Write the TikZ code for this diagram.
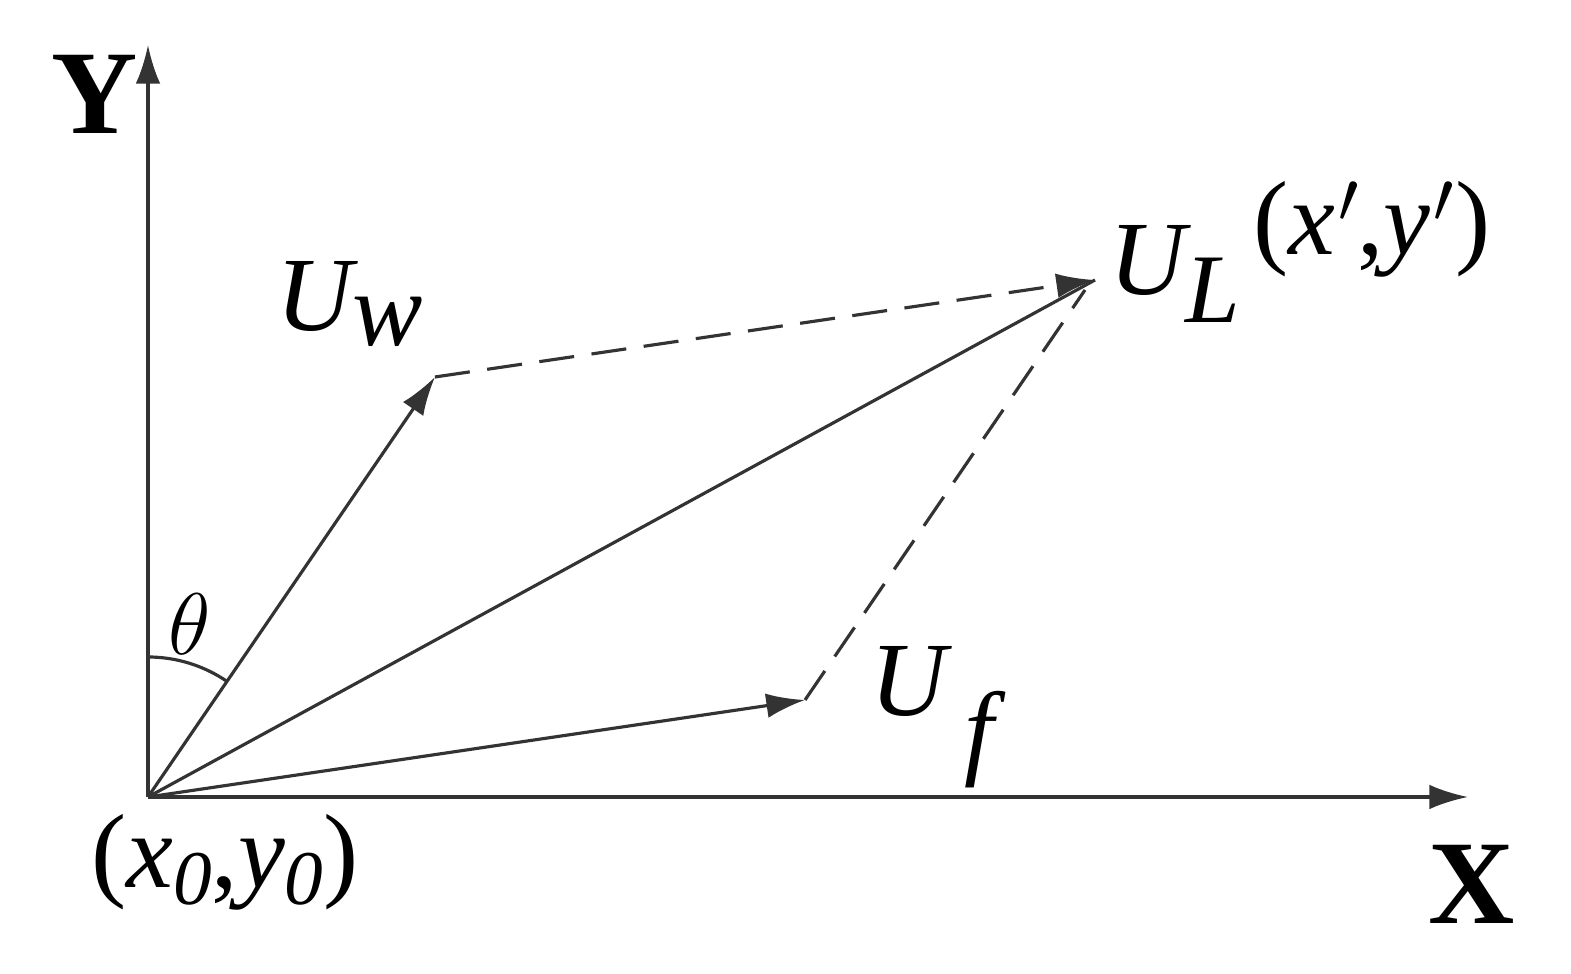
\documentclass[tikz,border=0pt]{standalone}
\usepackage{fontspec}
\setmainfont{Liberation Serif}
\usetikzlibrary{arrows.meta}
\begin{document}
\begin{tikzpicture}[x=1cm,y=1cm,
  vec/.style={line width=0.9pt,draw=black!80,-{Latex[length=11pt,width=7pt]}},
  dsh/.style={line width=0.9pt,draw=black!80,dash pattern=on 10pt off 5pt},
  lab/.style={font=\fontsize{30}{30}\selectfont\itshape,inner sep=0pt}]
\useasboundingbox (0,0) rectangle (15.71,9.74);
\coordinate (O) at (1.48,1.77);
\coordinate (Yt) at (1.48,9.29);
\coordinate (Xt) at (14.68,1.77);
\coordinate (W) at (4.35,5.97);
\coordinate (L) at (10.95,6.94);
\coordinate (F) at (8.05,2.74);
\coordinate (L2) at (10.85,6.84);
\draw[vec] (O) -- (Yt);
\draw[vec] (O) -- (Xt);
\draw[vec] (O) -- (W);
\draw[vec] (O) -- (F);
\draw[line width=0.9pt,draw=black!80] (O) -- (L);
\draw[dsh,-{Latex[length=11pt,width=7pt]}] (W) -- (L);
\draw[dsh] (F) -- (L2);
\draw[line width=0.9pt,draw=black!80] ([shift={(90:1.4)}]O) arc (90:55.7:1.4);
\node[font=\fontsize{34}{34}\selectfont\bfseries] (ylab) at (0.95,8.8) {Y};
\node[font=\fontsize{34}{34}\selectfont\bfseries] (xlab) at (14.72,0.9) {X};
\node[lab] (uw) at (3.5,6.7) {U\raisebox{-4pt}{w}};
\node[lab] (ul) at (11.75,7.0) {U\raisebox{-8pt}{\fontsize{28}{28}\selectfont L}};
\node[lab,font=\fontsize{30}{30}\selectfont] (xy) at (13.72,7.45) {(\textit{x}\kern1pt$'$\kern-1pt,\textit{y}\kern1pt$'$)};
\node[lab,anchor=base west] (uf) at (8.7,2.58) {U\raisebox{-14pt}{\,f}};
\node[lab] (th) at (1.9,3.5) {$\theta$};
\node[lab,font=\fontsize{30}{30}\selectfont] (o) at (2.25,1.12) {(\textit{x\raisebox{-5pt}{\fontsize{22}{22}\selectfont 0}},\textit{y\raisebox{-5pt}{\fontsize{22}{22}\selectfont 0}})};
\end{tikzpicture}
\end{document}
